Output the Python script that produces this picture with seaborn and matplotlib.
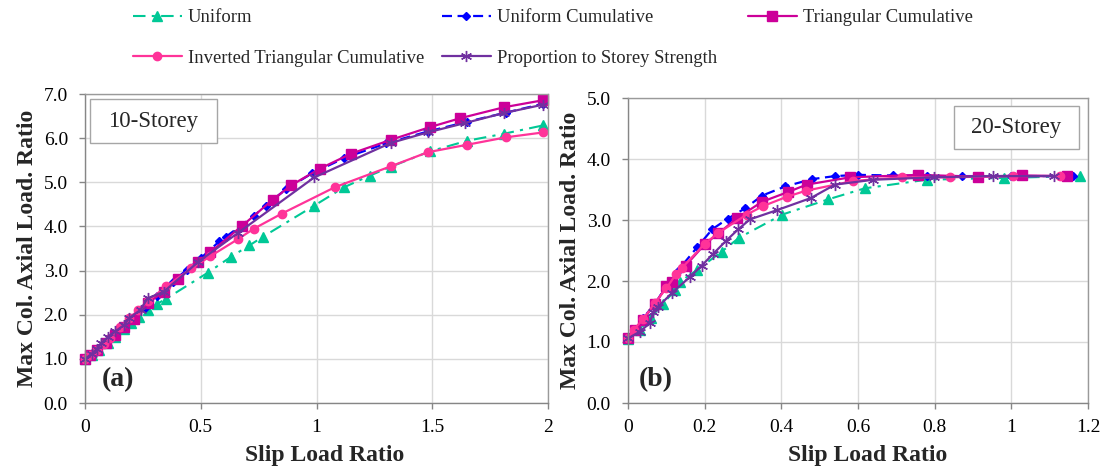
import matplotlib
matplotlib.use("Agg")
import matplotlib.pyplot as plt
import matplotlib.patches as mpatches
import seaborn as sns

# ---------------- data: 10-storey (a) ----------------
a_uni_x = [0, 0.03, 0.06, 0.10, 0.13, 0.17, 0.20, 0.235, 0.27, 0.31, 0.35, 0.53, 0.63, 0.71, 0.77, 0.99, 1.12, 1.23, 1.32, 1.49, 1.65, 1.81, 1.98]
a_uni_y = [1.0, 1.08, 1.20, 1.37, 1.50, 1.67, 1.81, 1.95, 2.10, 2.24, 2.36, 2.95, 3.31, 3.57, 3.77, 4.47, 4.89, 5.15, 5.35, 5.70, 5.94, 6.10, 6.29]

a_uc_x = [0, 0.02, 0.05, 0.09, 0.13, 0.17, 0.21, 0.26, 0.31, 0.38, 0.44, 0.50, 0.58, 0.61, 0.73, 0.78, 0.87, 0.98, 1.12, 1.30, 1.48, 1.65, 1.82, 1.98]
a_uc_y = [1.0, 1.08, 1.20, 1.37, 1.55, 1.72, 1.90, 2.16, 2.42, 2.75, 3.02, 3.28, 3.66, 3.77, 4.24, 4.47, 4.85, 5.20, 5.55, 5.88, 6.15, 6.37, 6.58, 6.78]

a_tc_x = [0, 0.02, 0.05, 0.09, 0.13, 0.17, 0.21, 0.27, 0.34, 0.40, 0.49, 0.54, 0.68, 0.81, 0.89, 1.015, 1.15, 1.32, 1.49, 1.62, 1.81, 1.98]
a_tc_y = [1.0, 1.08, 1.20, 1.37, 1.55, 1.72, 1.90, 2.26, 2.52, 2.81, 3.19, 3.41, 4.02, 4.60, 4.93, 5.31, 5.65, 5.96, 6.25, 6.45, 6.70, 6.86]

a_itc_x = [0, 0.02, 0.05, 0.08, 0.11, 0.15, 0.19, 0.23, 0.27, 0.35, 0.46, 0.54, 0.66, 0.73, 0.85, 1.08, 1.32, 1.48, 1.65, 1.82, 1.98]
a_itc_y = [1.0, 1.08, 1.20, 1.33, 1.47, 1.72, 1.92, 2.10, 2.30, 2.64, 3.05, 3.32, 3.71, 3.95, 4.29, 4.89, 5.36, 5.68, 5.85, 6.02, 6.13]

a_pss_x = [0, 0.03, 0.05, 0.07, 0.10, 0.13, 0.17, 0.19, 0.24, 0.27, 0.34, 0.49, 0.66, 0.99, 1.32, 1.48, 1.64, 1.81, 1.98]
a_pss_y = [1.0, 1.12, 1.22, 1.35, 1.50, 1.62, 1.77, 1.92, 2.11, 2.37, 2.52, 3.20, 3.85, 5.11, 5.89, 6.13, 6.34, 6.57, 6.76]

# ---------------- data: 20-storey (b) ----------------
b_uni_x = [0, 0.03, 0.06, 0.09, 0.123, 0.136, 0.18, 0.244, 0.29, 0.403, 0.523, 0.618, 0.779, 0.98, 1.18]
b_uni_y = [1.05, 1.20, 1.40, 1.62, 1.85, 1.99, 2.18, 2.48, 2.71, 3.09, 3.34, 3.52, 3.66, 3.69, 3.72]

b_uc_x = [0, 0.02, 0.04, 0.07, 0.10, 0.13, 0.18, 0.22, 0.26, 0.305, 0.35, 0.41, 0.48, 0.54, 0.60, 0.69, 0.78, 0.87, 1.0, 1.16]
b_uc_y = [1.05, 1.20, 1.40, 1.62, 1.92, 2.17, 2.55, 2.85, 3.02, 3.19, 3.40, 3.55, 3.67, 3.72, 3.74, 3.73, 3.72, 3.72, 3.72, 3.72]

b_tc_x = [0, 0.018, 0.038, 0.07, 0.10, 0.114, 0.15, 0.20, 0.236, 0.284, 0.35, 0.418, 0.466, 0.58, 0.757, 0.912, 1.027, 1.145]
b_tc_y = [1.06, 1.20, 1.36, 1.62, 1.91, 1.99, 2.25, 2.60, 2.78, 3.03, 3.30, 3.46, 3.58, 3.70, 3.74, 3.71, 3.73, 3.72]

b_itc_x = [0, 0.015, 0.04, 0.07, 0.10, 0.125, 0.14, 0.20, 0.236, 0.31, 0.353, 0.414, 0.464, 0.588, 0.714, 0.84, 1.005, 1.127]
b_itc_y = [1.06, 1.20, 1.38, 1.64, 1.88, 2.11, 2.21, 2.61, 2.79, 3.09, 3.23, 3.38, 3.48, 3.64, 3.70, 3.70, 3.72, 3.72]

b_pss_x = [0, 0.031, 0.057, 0.066, 0.079, 0.114, 0.162, 0.192, 0.223, 0.256, 0.288, 0.318, 0.388, 0.477, 0.54, 0.64, 0.797, 0.953, 1.11]
b_pss_y = [1.06, 1.17, 1.31, 1.50, 1.58, 1.80, 2.07, 2.25, 2.45, 2.66, 2.85, 3.01, 3.16, 3.36, 3.58, 3.66, 3.70, 3.72, 3.72]

labels = ["Uniform", "Uniform Cumulative", "Triangular Cumulative",
          "Inverted Triangular Cumulative", "Proportion to Storey Strength"]

a_xticks = [0, 0.5, 1, 1.5, 2]
a_xticklabels = ["0", "0.5", "1", "1.5", "2"]
a_yticks = [0, 1, 2, 3, 4, 5, 6, 7]
b_xticks = [0, 0.2, 0.4, 0.6, 0.8, 1.0, 1.2]
b_xticklabels = ["0", "0.2", "0.4", "0.6", "0.8", "1", "1.2"]
b_yticks = [0, 1, 2, 3, 4, 5]

# ---------------- styling ----------------
sns.set_theme(style="white")
plt.rcParams['font.family'] = ['Liberation Serif', 'DejaVu Serif']

styles = [
    dict(color="#00c896", linestyle=(0, (6, 3, 1.5, 3)), marker="^", markersize=6.5, lw=1.5),
    dict(color="#0000ff", linestyle=(0, (4.5, 2.5)), marker="D", markersize=3.8, lw=1.6),
    dict(color="#cc0099", linestyle="-", marker="s", markersize=6.5, lw=1.6),
    dict(color="#ff3399", linestyle="-", marker="o", markersize=6, lw=1.6),
    dict(color="#7030a0", linestyle="-", marker=(6, 2, 0), markersize=8, lw=1.6),
]

fig = plt.figure(figsize=(11.08, 4.71), dpi=100)
ax1 = fig.add_axes([85/1108, 1-403/471, 463/1108, 309/471])
ax2 = fig.add_axes([628/1108, 1-403/471, 460/1108, 305/471])

series_a = [(a_uni_x, a_uni_y), (a_uc_x, a_uc_y), (a_tc_x, a_tc_y), (a_itc_x, a_itc_y), (a_pss_x, a_pss_y)]
series_b = [(b_uni_x, b_uni_y), (b_uc_x, b_uc_y), (b_tc_x, b_tc_y), (b_itc_x, b_itc_y), (b_pss_x, b_pss_y)]

handles = []
for ax, series in [(ax1, series_a), (ax2, series_b)]:
    for (xs, ys), st, lab in zip(series, styles, labels):
        sns.lineplot(x=xs, y=ys, ax=ax, color=st["color"], linestyle=st["linestyle"],
                     marker=st["marker"], markersize=st["markersize"], linewidth=st["lw"],
                     markeredgecolor=st["color"], markerfacecolor=st["color"],
                     markeredgewidth=1.0, errorbar=None, legend=False, clip_on=False,
                     label=lab)
    if ax is ax1:
        handles = ax.get_lines()[:5]

def style_axes(ax, xlim, ylim, xticks, xticklabels, yticks, xlab_x):
    ax.set_xlim(*xlim)
    ax.set_ylim(*ylim)
    ax.set_xticks(xticks)
    ax.set_xticklabels(xticklabels)
    ax.set_yticks(yticks)
    ax.set_yticklabels([f"{v:.1f}" for v in yticks])
    ax.grid(True, color="#d9d9d9", linewidth=1.0)
    ax.set_axisbelow(True)
    for sp in ax.spines.values():
        sp.set_color("#9a9a9a")
        sp.set_linewidth(1.0)
    ax.spines['left'].set_color("#868686")
    ax.spines['bottom'].set_color("#868686")
    ax.tick_params(axis='both', direction='out', length=4.3, width=1, color="#868686",
                   labelsize=14, labelcolor="black", bottom=True, left=True)
    ax.tick_params(axis='x', pad=7.5)
    ax.tick_params(axis='y', pad=8)
    ax.set_xlabel("Slip Load Ratio", fontsize=17, fontweight='bold', labelpad=6.5)
    ax.xaxis.label.set_x(xlab_x)
    ax.set_ylabel("Max Col. Axial Load. Ratio", fontsize=17, fontweight='bold', labelpad=4)

style_axes(ax1, (0, 2), (0, 7), a_xticks, a_xticklabels, a_yticks, 0.518)
style_axes(ax2, (0, 1.2), (0, 5), b_xticks, b_xticklabels, b_yticks, 0.52)

# Storey boxes
ax1.add_patch(mpatches.Rectangle((5/463, 260/309), 127/463, 44/309, transform=ax1.transAxes,
                                 facecolor="white", edgecolor="#a6a6a6", lw=1.0, zorder=5))
ax1.text(68.5/463, 282/309, "10-Storey", transform=ax1.transAxes, ha="center", va="center",
         fontsize=16.5, zorder=6)
ax2.add_patch(mpatches.Rectangle((326/460, 254/305), 125/460, 43/305, transform=ax2.transAxes,
                                 facecolor="white", edgecolor="#a6a6a6", lw=1.0, zorder=5))
ax2.text(388.5/460, 275.5/305, "20-Storey", transform=ax2.transAxes, ha="center", va="center",
         fontsize=16.5, zorder=6)

ax1.text(33/463, 23/309, "(a)", transform=ax1.transAxes, ha="center", va="center",
         fontsize=20, fontweight="bold")
ax2.text(27.5/460, 23/305, "(b)", transform=ax2.transAxes, ha="center", va="center",
         fontsize=20, fontweight="bold")

# Legend: three columns placed like the reference
cols = [([handles[0], handles[3]], [labels[0], labels[3]], 133),
        ([handles[1], handles[4]], [labels[1], labels[4]], 442),
        ([handles[2]], [labels[2]], 748)]
for hs, ls, xpix in cols:
    fig.legend(hs, ls, loc="upper left", bbox_to_anchor=(xpix/1108, 1-9/471),
               frameon=False, fontsize=13.4, borderpad=0, borderaxespad=0,
               handlelength=2.63, handletextpad=0.3, labelspacing=1.28)

fig.savefig("out.png", dpi=100)
